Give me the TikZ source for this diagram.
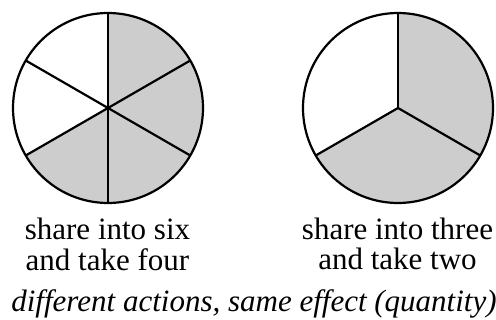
\documentclass[tikz,border=0pt]{standalone}
\usepackage{fontspec}
\setmainfont{Liberation Serif}
\definecolor{shade}{HTML}{CDCDCD}
\begin{document}
\begin{tikzpicture}[x=1pt,y=1pt,
  rim/.style={draw=black,line width=2.2pt},
  spoke/.style={draw=black,line width=2.2pt},
  sector/.style={fill=shade},
  caption/.style={inner sep=0pt,font=\fontsize{31}{30.5}\selectfont},
  note/.style={inner sep=0pt,font=\fontsize{31}{30.5}\selectfont\itshape}]
\useasboundingbox (0,0) rectangle (496,-320);
% left circle
\coordinate (L) at (108,-108);
\fill[sector] (L) -- ++(90:95) arc[start angle=90,end angle=-90,radius=95] -- cycle;
\fill[sector] (L) -- ++(210:95) arc[start angle=210,end angle=270,radius=95] -- cycle;
\foreach \a in {90,30,-30} {
  \draw[spoke] (L) -- ++(\a:95);
  \draw[spoke] (L) -- ++(\a+180:95);
}
\draw[rim] (L) circle[radius=95];
% right circle
\coordinate (R) at (398,-108);
\fill[sector] (R) -- ++(90:95) arc[start angle=90,end angle=-30,radius=95] -- cycle;
\fill[sector] (R) -- ++(210:95) arc[start angle=210,end angle=330,radius=95] -- cycle;
\foreach \a in {90,210,330} {
  \draw[spoke] (R) -- ++(\a:95);
}
\draw[rim] (R) circle[radius=95];
% captions
\node[caption,anchor=base] (capL) at (107.5,-239.3)
  {\begin{tabular}[t]{@{}c@{}}share into six\\and take four\end{tabular}};
\node[caption,anchor=base] (capR) at (397.5,-239.3)
  {\begin{tabular}[t]{@{}c@{}}share into three\\and take two\end{tabular}};
\node[note,anchor=base] (note) at (254,-311.7) {different actions, same effect (quantity)};
\end{tikzpicture}
\end{document}
